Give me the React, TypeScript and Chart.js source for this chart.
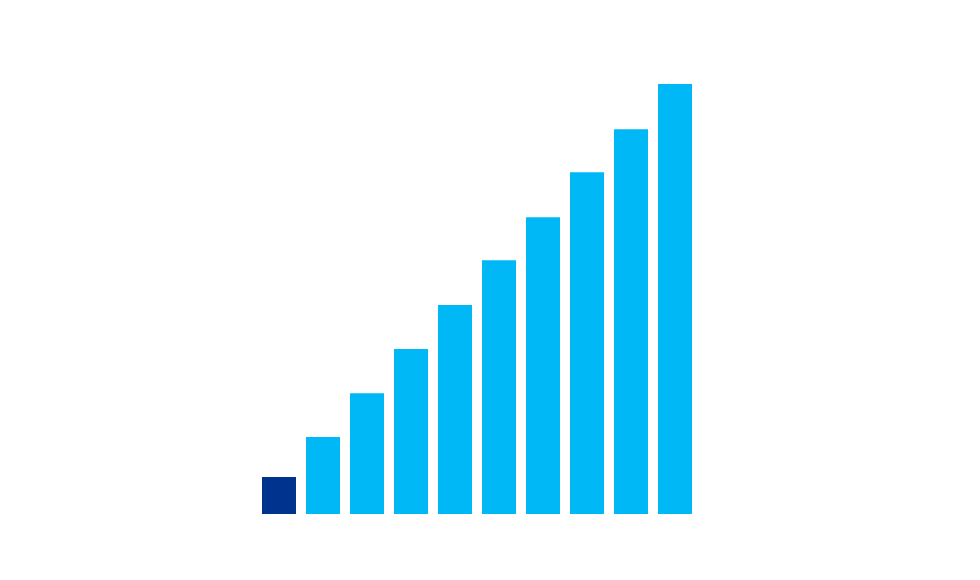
import { useEffect, useRef } from 'react';
import { Chart, registerables } from 'chart.js';

Chart.register(...registerables);

// categories are unlabeled in the picture
const categories = ['1', '2', '3', '4', '5', '6', '7', '8', '9', '10'];
const values = [0.86, 1.79, 2.81, 3.84, 4.86, 5.9, 6.9, 7.95, 8.95, 10];
const barColors = ['#00338D', '#00B8F5', '#00B8F5', '#00B8F5', '#00B8F5', '#00B8F5', '#00B8F5', '#00B8F5', '#00B8F5', '#00B8F5'];

export default function App() {
  const canvasRef = useRef<HTMLCanvasElement | null>(null);

  useEffect(() => {
    if (!canvasRef.current) return;
    const chart = new Chart(canvasRef.current, {
      type: 'bar',
      data: {
        labels: categories,
        datasets: [{
          data: values,
          backgroundColor: barColors,
          borderWidth: 0,
          categoryPercentage: 1,
          barPercentage: 34 / 44,
        }],
      },
      options: {
        responsive: true,
        maintainAspectRatio: false,
        animation: false,
        layout: { padding: { left: 257, right: 283, top: 84, bottom: 66 } },
        plugins: { legend: { display: false }, tooltip: { enabled: false } },
        scales: {
          x: { display: false },
          y: { display: false, min: 0, max: 10 },
        },
      },
    });
    return () => { chart.destroy(); };
  }, []);

  return (
    <div style={{ position: 'absolute', left: 0, top: 0, width: 980, height: 580, background: '#fff' }}>
      <canvas ref={canvasRef} />
    </div>
  );
}
